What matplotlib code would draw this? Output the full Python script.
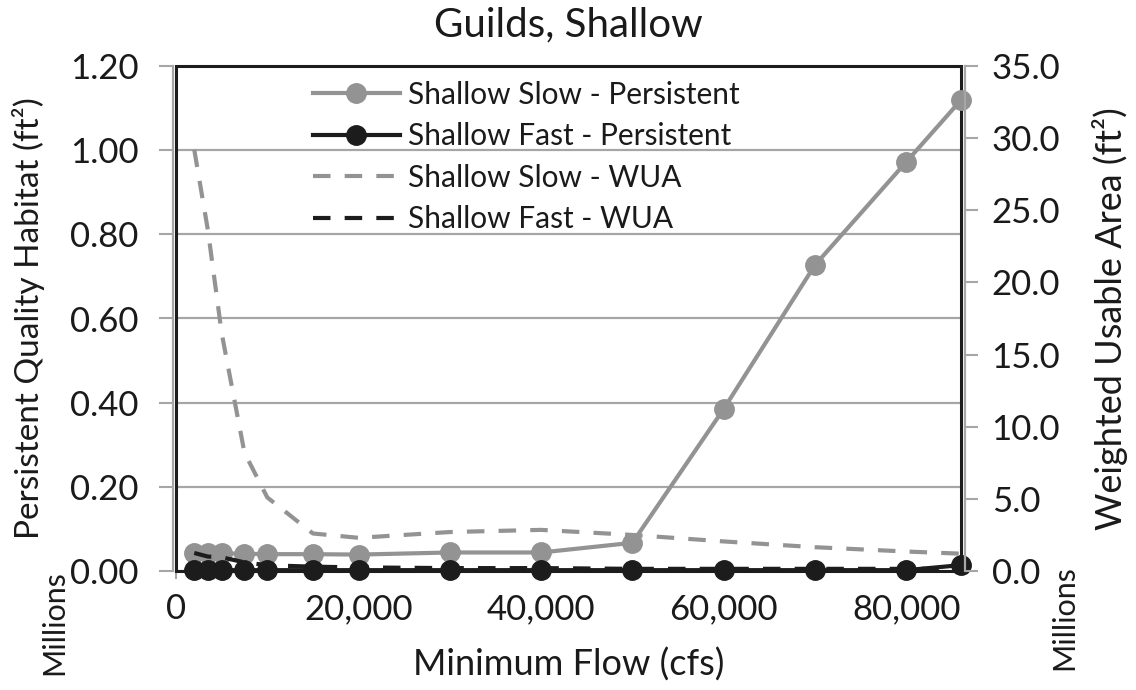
import matplotlib
matplotlib.use("Agg")
import matplotlib.pyplot as plt
from matplotlib.ticker import FuncFormatter, MultipleLocator
from matplotlib.patches import Rectangle

plt.rcParams["font.family"] = ["Lato", "DejaVu Sans"]

# Minimum flow (cfs)
flow = [2000, 3500, 5000, 7500, 10000, 15000, 20000, 30000, 40000,
        50000, 60000, 70000, 80000, 86000]

# Persistent quality habitat (millions ft2), left axis
slow_persistent = [0.042, 0.042, 0.042, 0.041, 0.040, 0.040, 0.039, 0.044,
                   0.044, 0.067, 0.385, 0.727, 0.972, 1.119]
fast_persistent = [0.002, 0.002, 0.002, 0.002, 0.002, 0.002, 0.002, 0.002,
                   0.002, 0.002, 0.002, 0.002, 0.002, 0.014]

# Weighted usable area (millions ft2), right axis
slow_wua = [29.2, 23.6, 16.5, 8.2, 5.1, 2.6, 2.3, 2.7, 2.85, 2.5, 2.05,
            1.65, 1.35, 1.2]
fast_wua = [1.25, 1.0, 0.95, 0.6, 0.4, 0.3, 0.25, 0.2, 0.2, 0.15, 0.15,
            0.15, 0.15, 0.15]

GRAY = "#939393"
BLACK = "#1c1c1c"
AXIS_GRAY = "#a6a6a6"
TXT = "#1a1a1a"

fig = plt.figure(figsize=(11.36, 6.90), dpi=100)
ax = fig.add_axes([176 / 1136, 1 - 571 / 690, (961 - 176) / 1136, (571 - 66) / 690])
ax2 = ax.twinx()

lw = 3.0
ms = 14
dash = (0, (4.2, 3.4))
l1, = ax.plot(flow, slow_persistent, color=GRAY, lw=lw, marker="o", ms=ms,
              label="Shallow Slow - Persistent", clip_on=False, zorder=3)
l2, = ax.plot(flow, fast_persistent, color=BLACK, lw=lw, marker="o", ms=ms,
              label="Shallow Fast - Persistent", clip_on=False, zorder=4)
l3, = ax2.plot(flow, slow_wua, color=GRAY, lw=lw, ls=dash,
               label="Shallow Slow - WUA", clip_on=False)
l4, = ax2.plot(flow, fast_wua, color=BLACK, lw=lw, ls=dash,
               label="Shallow Fast - WUA", clip_on=False)

ax.set_xlim(0, 86000)
ax.set_ylim(0, 1.2)
ax2.set_ylim(0, 35)

ax.xaxis.set_major_locator(MultipleLocator(20000))
ax.xaxis.set_major_formatter(FuncFormatter(lambda v, p: f"{v:,.0f}"))
ax.yaxis.set_major_locator(MultipleLocator(0.2))
ax.yaxis.set_major_formatter(FuncFormatter(lambda v, p: f"{v:.2f}"))
ax2.yaxis.set_major_locator(MultipleLocator(5))
ax2.yaxis.set_major_formatter(FuncFormatter(lambda v, p: f"{v:.1f}"))

ax.grid(axis="y", color=AXIS_GRAY, lw=1.6)
ax.set_axisbelow(True)

fs = 25
ax.tick_params(axis="y", direction="out", length=10, width=1.5, color=AXIS_GRAY,
               labelsize=fs, labelcolor=TXT, pad=15)
ax.tick_params(axis="x", direction="inout", length=12, width=1.5, color=AXIS_GRAY,
               labelsize=fs, labelcolor=TXT, pad=10)
ax2.tick_params(axis="y", direction="out", length=9, width=1.5, color=AXIS_GRAY,
                labelsize=fs, labelcolor=TXT, pad=10)

for a in (ax, ax2):
    for s in a.spines.values():
        s.set_visible(False)
ax.spines["left"].set_visible(True)
ax.spines["left"].set_color(AXIS_GRAY)
ax.spines["left"].set_linewidth(1.6)
ax.spines["left"].set_position(("outward", 2))
ax2.spines["right"].set_visible(True)
ax2.spines["right"].set_color(AXIS_GRAY)
ax2.spines["right"].set_linewidth(1.6)
ax2.spines["right"].set_position(("outward", 3))

# plot-area border
ax.add_patch(Rectangle((0, 0), 1, 1, transform=ax.transAxes, fill=False,
                       ec=BLACK, lw=2.2, zorder=2, clip_on=False))

ax.set_title("Guilds, Shallow", fontsize=29, color=TXT, pad=21)
ax.set_xlabel("Minimum Flow (cfs)", fontsize=26, color=TXT, labelpad=16)
ax.set_ylabel("Persistent Quality Habitat (ft²)", fontsize=24, color=TXT, labelpad=18)
ax2.set_ylabel("Weighted Usable Area (ft²)", fontsize=26, color=TXT, labelpad=23)

fig.text(54 / 1136, 1 - 623 / 690, "Millions", rotation=90, fontsize=22,
         color=TXT, ha="center", va="center")
fig.text(1064 / 1136, 1 - 618 / 690, "Millions", rotation=90, fontsize=22,
         color=TXT, ha="center", va="center")

leg = ax.legend(handles=[l1, l2, l3, l4], loc="upper left",
                bbox_to_anchor=(0.1554, 1.0), frameon=False, fontsize=21.5,
                handlelength=2.9, handletextpad=0.27, labelspacing=0.45,
                borderaxespad=0.1)
for t in leg.get_texts():
    t.set_color(TXT)

fig.savefig("out.png", dpi=100)
